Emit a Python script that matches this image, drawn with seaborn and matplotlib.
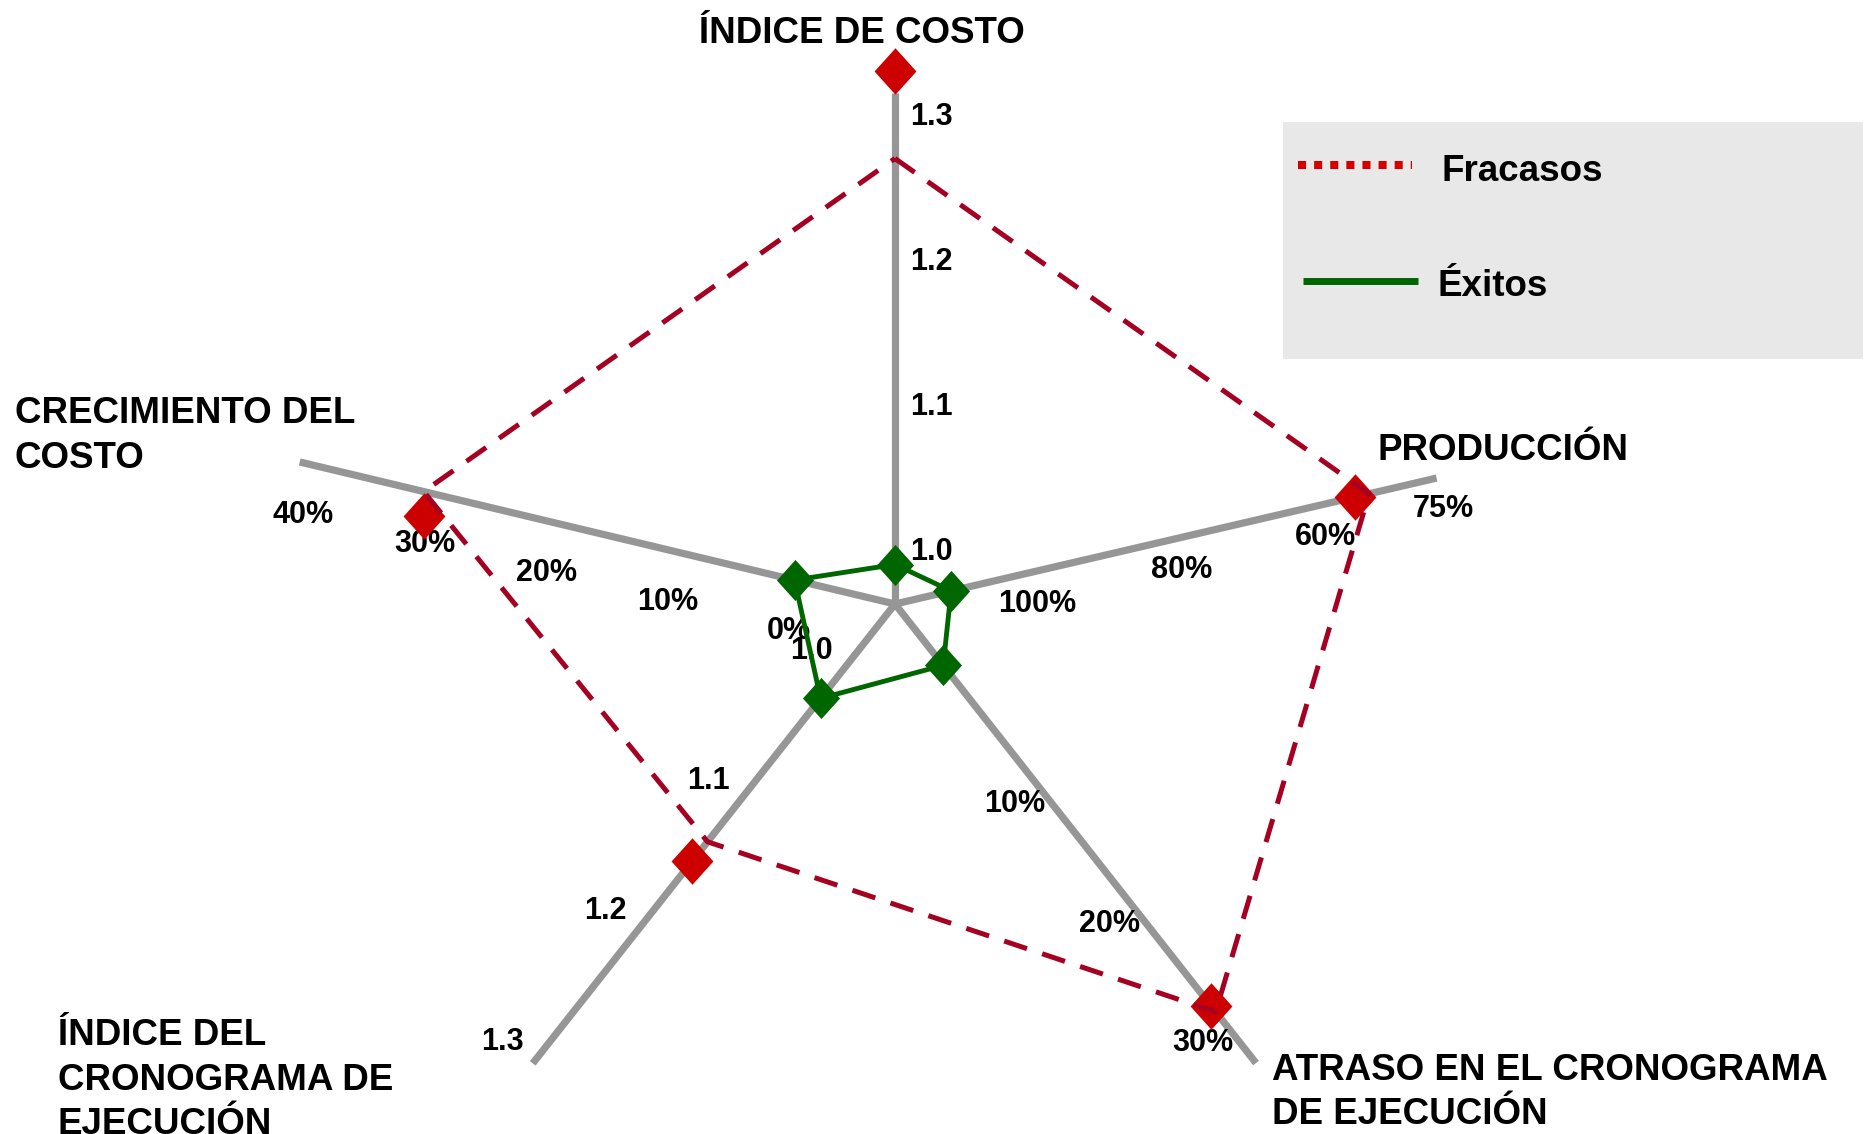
import numpy as np
import matplotlib
matplotlib.use("Agg")
import matplotlib.pyplot as plt
from matplotlib.patches import Rectangle
from matplotlib.path import Path
import seaborn as sns

# ---------------- data ----------------
ejes = ["ÍNDICE DE COSTO", "PRODUCCIÓN", "ATRASO EN EL CRONOGRAMA DE EJECUCIÓN",
        "ÍNDICE DEL CRONOGRAMA DE EJECUCIÓN", "CRECIMIENTO DEL COSTO"]
fracasos = [1.27, 53, 29, 1.13, 31]              # dashed polygon
fracasos_marcas = [1.33, 55, 28.5, 1.145, 30.5]  # red diamonds
exitos = [0.99, 111, 0, 1.02, 0.5]               # green polygon

ticks_costo = [1.0, 1.1, 1.2, 1.3]
ticks_produccion = [100, 80, 60]
ticks_atraso = [10, 20, 30]
ticks_cronograma = [1.0, 1.1, 1.2, 1.3]
ticks_crecimiento = [0, 10, 20, 30, 40]
etiqueta_fin_produccion = "75%"

# ---------------- layout ----------------
W, H = 1870, 1134
CENTRO = np.array([895.0, 604.0])
# direction (deg), length (px), reference value, px offset at reference,
# px per unit, perpendicular offset of the tick labels, perpendicular shift of diamond
GEOM = [
    dict(ang=90.0,    largo=511, ref=1.0, d0=54,  k=1450, off=36,  dm=0),
    dict(ang=13.09,   largo=556, ref=100, d0=139, k=-7.4, off=30,  dm=0),
    dict(ang=-51.82,  largo=584, ref=0,   d0=78,  k=15.2, off=28,  dm=0),
    dict(ang=-128.26, largo=585, ref=1.0, d0=87,  k=1660, off=38,  dm=0),
    dict(ang=166.58,  largo=612, ref=0,   d0=97,  k=12.5, off=-49, dm=-24),
]
TICKS = [
    (ticks_costo, "{:.1f}"), (ticks_produccion, "{:.0f}%"), (ticks_atraso, "{:.0f}%"),
    (ticks_cronograma, "{:.1f}"), (ticks_crecimiento, "{:.0f}%"),
]

GRIS = "#969696"
ROJO_LINEA = "#A50021"
ROJO = "#CC0000"
VERDE = "#006600"
FONT = ["Liberation Sans", "DejaVu Sans"]


def direccion(g):
    th = np.radians(g["ang"])
    return np.array([np.cos(th), -np.sin(th)])


def normal(g):
    u = direccion(g)
    return np.array([-u[1], u[0]])


def punto(i, v, desplaz=0.0):
    g = GEOM[i]
    d = g["d0"] + g["k"] * (v - g["ref"])
    return CENTRO + d * direccion(g) + desplaz * normal(g)


sns.set_style("white")
plt.rcParams["font.family"] = FONT
plt.rcParams["font.weight"] = "bold"
plt.rcParams["text.color"] = "black"

fig = plt.figure(figsize=(W / 100, H / 100), dpi=100)
ax = fig.add_axes([0, 0, 1, 1])

# spokes
for g in GEOM:
    fin = CENTRO + g["largo"] * direccion(g)
    sns.lineplot(x=[CENTRO[0], fin[0]], y=[CENTRO[1], fin[1]], sort=False, estimator=None,
                 color=GRIS, linewidth=5.2, solid_capstyle="butt", ax=ax, zorder=1)

# tick labels
for i, (vals, fmt) in enumerate(TICKS):
    g = GEOM[i]
    for v in vals:
        p = punto(i, v) + g["off"] * normal(g)
        ax.text(p[0], p[1] + 2, fmt.format(v), ha="center", va="center",
                fontsize=22, fontweight="bold", color="black", zorder=2)
g = GEOM[1]
p = CENTRO + g["largo"] * direccion(g) + g["off"] * normal(g)
ax.text(p[0], p[1] + 2, etiqueta_fin_produccion, ha="center", va="center",
        fontsize=22, fontweight="bold", color="black", zorder=2)

rombo = Path([(0, 1), (0.9, 0), (0, -1), (-0.9, 0), (0, 1)],
             [Path.MOVETO, Path.LINETO, Path.LINETO, Path.LINETO, Path.CLOSEPOLY])

# failures: diamonds under the dashed outline
marcas = np.array([punto(i, v, GEOM[i]["dm"]) for i, v in enumerate(fracasos_marcas)])
sns.scatterplot(x=marcas[:, 0], y=marcas[:, 1], marker=rombo, s=1120, color=ROJO,
                linewidth=0, ax=ax, zorder=3)
poly = np.array([punto(i, v) for i, v in enumerate(fracasos)])
poly = np.vstack([poly, poly[:1]])
sns.lineplot(x=poly[:, 0], y=poly[:, 1], sort=False, estimator=None, color=ROJO_LINEA,
             linewidth=3.6, linestyle=(0, (4.8, 3.2)), dash_capstyle="butt", ax=ax, zorder=4)

# successes
pe = np.array([punto(i, v) for i, v in enumerate(exitos)])
pe_c = np.vstack([pe, pe[:1]])
sns.lineplot(x=pe_c[:, 0], y=pe_c[:, 1], sort=False, estimator=None, color=VERDE,
             linewidth=3.5, ax=ax, zorder=5)
sns.scatterplot(x=pe[:, 0], y=pe[:, 1], marker=rombo, s=880, color=VERDE,
                linewidth=0, ax=ax, zorder=6)

# axis titles
titulos = [
    (["ÍNDICE DE COSTO"], 862, 43, "center"),
    (["PRODUCCIÓN"], 1377, 460, "left"),
    (["CRECIMIENTO DEL", "COSTO"], 15, 423, "left"),
    (["ÍNDICE DEL", "CRONOGRAMA DE", "EJECUCIÓN"], 58, 1045, "left"),
    (["ATRASO EN EL CRONOGRAMA", "DE EJECUCIÓN"], 1272, 1080, "left"),
]
for lineas, x0, y0, ha in titulos:
    for j, t in enumerate(lineas):
        ax.text(x0, y0 + 44.5 * j, t, ha=ha, va="baseline", fontsize=26.5,
                fontweight="bold", color="black", zorder=7)

# legend
ax.add_patch(Rectangle((1283, 122), 580, 237, facecolor="#E8E8E8", edgecolor="none", zorder=0))
ax.plot([1298, 1412], [165, 165], color="#D40000", linewidth=5.8,
        linestyle=(0, (1, 1)), dash_capstyle="butt", zorder=1)
ax.plot([1303, 1418], [281, 281], color=VERDE, linewidth=5.0,
        solid_capstyle="butt", zorder=1)
ax.text(1442, 181, "Fracasos", ha="left", va="baseline", fontsize=26.5,
        fontweight="bold", color="black")
ax.text(1438, 296, "Éxitos", ha="left", va="baseline", fontsize=26.5,
        fontweight="bold", color="black")

ax.set_xlim(0, W)
ax.set_ylim(H, 0)
ax.axis("off")
if ax.get_legend() is not None:
    ax.get_legend().remove()

fig.savefig("out.png", dpi=100, facecolor="white")
